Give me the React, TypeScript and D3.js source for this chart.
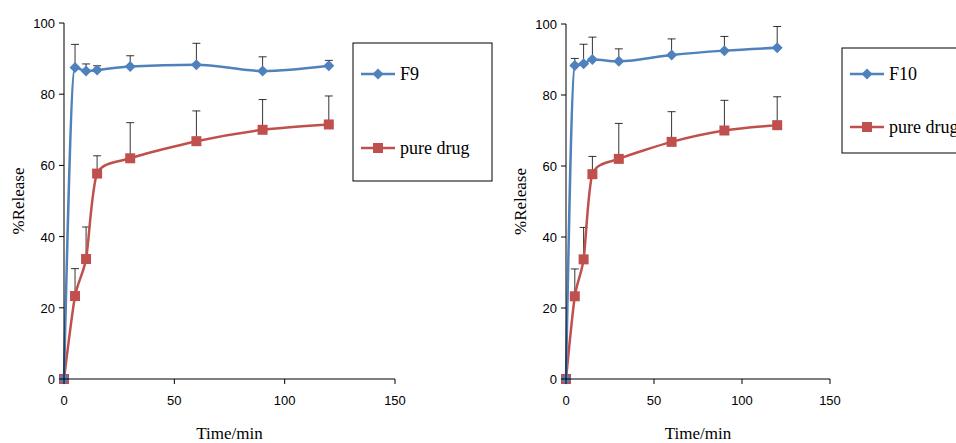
import React from 'react';
import * as d3 from 'd3';

const times = [0, 5, 10, 15, 30, 60, 90, 120];
const f9 = [0, 87.5, 86.5, 86.8, 87.8, 88.3, 86.5, 88];
const f9Err = [0, 6.5, 2, 1.2, 3, 6, 4, 1.5];
const pure = [0, 23.3, 33.7, 57.7, 62, 66.8, 70, 71.5];
const pureErr = [0, 7.7, 9, 5, 10, 8.5, 8.5, 8];
const f10 = [0, 88.3, 88.8, 90, 89.5, 91.3, 92.5, 93.3];
const f10Err = [0, 2, 5.5, 6.3, 3.5, 4.5, 4, 6];
const xTicks = [0, 50, 100, 150];
const yTicks = [0, 20, 40, 60, 80, 100];

const BLUE = '#4F81BD';
const RED = '#C0504D';

interface PanelProps {
  x0: number; x1: number; y0: number; y1: number;
  name: string; vals: number[]; errs: number[];
  legend: { x: number; y: number; w: number; h: number; r1: number; r2: number };
}

function Panel({ x0, x1, y0, y1, name, vals, errs, legend }: PanelProps) {
  const x = d3.scaleLinear().domain([0, 150]).range([x0, x1]);
  const y = d3.scaleLinear().domain([0, 100]).range([y0, y1]);
  const smooth = d3.line<number>().x((_, i) => x(times[i])).y(d => y(d)).curve(d3.curveCardinal.tension(0.3));
  const mono = d3.line<number>().x((_, i) => x(times[i])).y(d => y(d)).curve(d3.curveMonotoneX);
  const series = [
    { vals: pure, errs: pureErr, color: RED, shape: 'sq', line: smooth },
    { vals, errs, color: BLUE, shape: 'di', line: mono },
  ];
  const marker = (shape: string, cx: number, cy: number, color: string, key: any) =>
    shape === 'sq'
      ? <rect key={key} x={cx - 5} y={cy - 5} width={10} height={10} fill={color} />
      : <path key={key} d={`M${cx},${cy - 5.5}L${cx + 5.5},${cy}L${cx},${cy + 5.5}L${cx - 5.5},${cy}Z`} fill={color} />;
  return (
    <g>
      {series.map((s, si) => (
        <g key={si}>
          {s.vals.map((v, i) => s.errs[i] > 0 && (
            <g key={i} stroke="#000" strokeWidth={0.8}>
              <line x1={x(times[i])} x2={x(times[i])} y1={y(v)} y2={y(v + s.errs[i])} />
              <line x1={x(times[i]) - 4} x2={x(times[i]) + 4} y1={y(v + s.errs[i])} y2={y(v + s.errs[i])} />
            </g>
          ))}
        </g>
      ))}
      {series.map((s, si) => (
        <g key={si}>
          <path d={s.line(s.vals) || ''} fill="none" stroke={s.color} strokeWidth={2.5} />
          {s.vals.map((v, i) => marker(s.shape, x(times[i]), y(v), s.color, i))}
        </g>
      ))}
      <line x1={x0} x2={x1} y1={y0} y2={y0} stroke="#000" />
      <line x1={x0} x2={x0} y1={y0} y2={y1} stroke="#000" />
      {xTicks.map(t => (
        <g key={t}>
          <line x1={x(t)} x2={x(t)} y1={y0} y2={y0 + 5} stroke="#000" />
          <text x={x(t)} y={y0 + 26} textAnchor="middle" fontSize={13} fontFamily="Liberation Sans">{t}</text>
        </g>
      ))}
      {yTicks.map(t => (
        <g key={t}>
          <line x1={x0 - 5} x2={x0} y1={y(t)} y2={y(t)} stroke="#000" />
          <text x={x0 - 9} y={y(t) + 5} textAnchor="end" fontSize={13} fontFamily="Liberation Sans">{t}</text>
        </g>
      ))}
      <text x={(x0 + x1) / 2} y={439} textAnchor="middle" fontSize={17} fontFamily="Liberation Serif">Time/min</text>
      <text transform={`translate(${x0 - 40},${(y0 + y1) / 2}) rotate(-90)`} textAnchor="middle" fontSize={17} fontFamily="Liberation Serif">%Release</text>
      <rect x={legend.x} y={legend.y} width={legend.w} height={legend.h} fill="#fff" stroke="#000" />
      {[{ r: legend.r1, c: BLUE, s: 'di', t: name }, { r: legend.r2, c: RED, s: 'sq', t: 'pure drug' }].map((l, i) => (
        <g key={i}>
          <line x1={legend.x + 8} x2={legend.x + 42} y1={l.r} y2={l.r} stroke={l.c} strokeWidth={2.5} />
          {marker(l.s, legend.x + 25, l.r, l.c, 'm')}
          <text x={legend.x + 47} y={l.r + 6} fontSize={18} fontFamily="Liberation Serif">{l.t}</text>
        </g>
      ))}
    </g>
  );
}

export default function App() {
  return (
    <svg width={956} height={443} style={{ position: 'absolute', left: 0, top: 0, background: '#fff' }}>
      <Panel x0={64} x1={395} y0={379} y1={23} name="F9" vals={f9} errs={f9Err}
        legend={{ x: 353, y: 43, w: 139, h: 138, r1: 74, r2: 148 }} />
      <Panel x0={566} x1={830} y0={379} y1={24} name="F10" vals={f10} errs={f10Err}
        legend={{ x: 842, y: 48, w: 130, h: 105, r1: 74, r2: 127 }} />
    </svg>
  );
}
